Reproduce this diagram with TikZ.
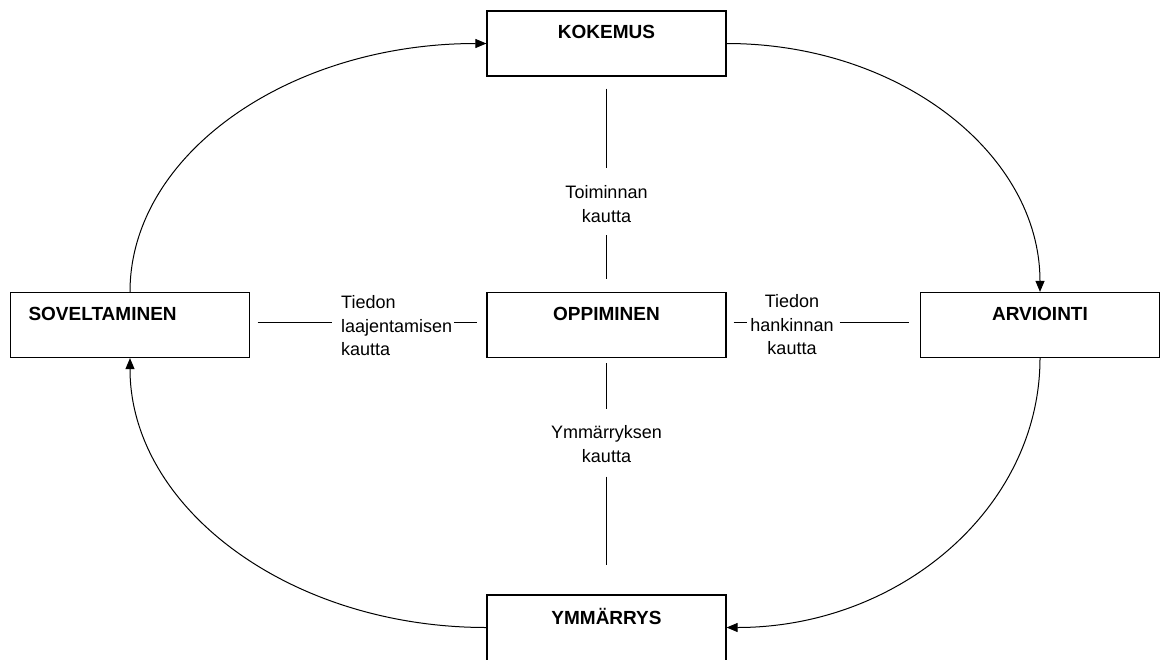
\documentclass[tikz,border=0pt]{standalone}
\usepackage{fontspec}
\setmainfont{Liberation Sans}
\usetikzlibrary{arrows.meta}
\begin{document}
\begin{tikzpicture}[x=1pt,y=-1pt,
  stage/.style={draw, line width=1.2pt, minimum height=65pt, text width=203pt,
    inner xsep=18pt, inner ysep=0pt, align=center,
    font=\fontsize{19}{22}\selectfont\bfseries, text height=13pt, text depth=23pt},
  via/.style={inner sep=0pt, align=center, font=\fontsize{18}{23.5}\selectfont},
  link/.style={line width=1pt},
  cycle/.style={line width=1pt, -{Triangle[length=11pt,width=9pt]}}]
\useasboundingbox (0,0) rectangle (1164,659);
\clip (0,0) rectangle (1164,659);

% the five stages
\node[stage] (kok) at (606.5,43.5) {KOKEMUS};
\node[stage] (opp) at (606.5,325) {OPPIMINEN};
\node[stage, align=left] (sov) at (130,325) {SOVELTAMINEN};
\node[stage] (arv) at (1040,325) {ARVIOINTI};
% the lowest box runs off the bottom edge
\node[stage, minimum height=69pt] (ymm) at (606.5,629.5) {YMMÄRRYS};

% ways of learning
\node[via] (vtop) at (606.5,204) {Toiminnan\\kautta};
\node[via] (vbot) at (606.5,444) {Ymmärryksen\\kautta};
\node[via, anchor=west, align=left] (vleft) at (341,326) {Tiedon\\laajentamisen\\kautta};
\node[via] (vright) at (792,325) {Tiedon\\hankinnan\\kautta};

% spokes from the centre
\draw[link, shorten <=12pt, shorten >=17pt] (kok.south) -- (vtop.north);
\draw[link, shorten <=12.5pt, shorten >=13pt] (vtop.south) -- (opp.north);
\draw[link, shorten <=5pt, shorten >=16pt] (opp.south) -- (vbot.north);
\draw[link, shorten <=14pt, shorten >=29pt] (vbot.south) -- (ymm.north);
\draw[link, shorten <=7.5pt, shorten >=9pt] ([yshift=3pt]sov.east) -- ([yshift=3pt]sov.east -| vleft.west);
\draw[link, shorten <=2pt, shorten >=9pt] ([yshift=3pt]opp.west -| vleft.east) -- ([yshift=3pt]opp.west);
\draw[link, shorten <=7pt, shorten >=3pt] ([yshift=3pt]opp.east) -- ([yshift=3pt]opp.east -| vright.west);
\draw[link, shorten <=6pt, shorten >=11pt] ([yshift=3pt]arv.west -| vright.east) -- ([yshift=3pt]arv.west);

% the outer cycle
\draw[cycle] (sov.north) .. controls +(0,-137.8) and +(-197.2,0) .. (kok.west);
\draw[cycle] (kok.east) .. controls +(173.4,0) and +(0,-137.8) .. (arv.north);
\draw[cycle] (arv.south) .. controls +(0,149.4) and +(173.4,0) .. ([yshift=2pt]ymm.east);
\draw[cycle] ([yshift=2pt]ymm.west) .. controls +(-197.2,0) and +(0,149.4) .. (sov.south);
\end{tikzpicture}
\end{document}
